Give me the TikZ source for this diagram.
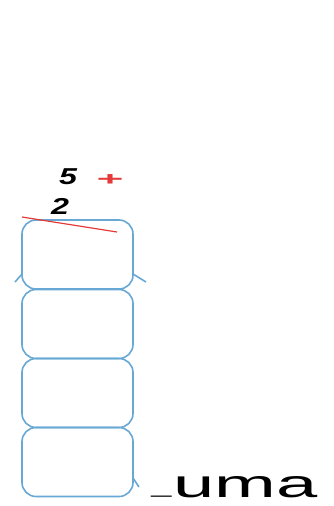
\documentclass[tikz,border=0pt]{standalone}
\usepackage{fontspec}
\setmainfont{Liberation Sans}
\definecolor{cellblue}{RGB}{104,168,212}
\definecolor{markred}{RGB}{228,58,58}

\begin{document}
\begin{tikzpicture}[
    x=1pt,y=-1pt,
    cell/.style={draw=cellblue, line width=1.6pt, rounded corners=14pt, minimum width=111pt, minimum height=69pt, inner sep=0pt},
    tail/.style={draw=cellblue, line width=1.6pt},
    digit/.style={font=\bfseries\itshape\fontsize{23}{23}\selectfont, xscale=1.4, inner sep=0pt},
    sign/.style={font=\bfseries\fontsize{22}{22}\selectfont, text=markred, xscale=2.1, yscale=0.85, inner sep=0pt},
    word/.style={font=\fontsize{39}{39}\selectfont, xscale=1.9, inner sep=0pt, text depth=0pt, anchor=base west}
]

    % ================= FRAME =================
    \useasboundingbox (0,0) rectangle (334,506);

    % ================= CELLS =================
    \node[cell] (c1) at (77.5,254.5) {};
    \node[cell] (c2) at (77.5,324) {};
    \node[cell] (c3) at (77.5,393) {};
    \node[cell] (c4) at (77.5,462) {};

    % tails where the cells meet
    \coordinate (t1) at (22,274);
    \coordinate (t1e) at (15,282);
    \coordinate (t2) at (133,274);
    \coordinate (t2e) at (146,282);
    \coordinate (t3) at (133,478);
    \coordinate (t3e) at (139,487);
    \draw[tail] (t1) -- (t1e);
    \draw[tail] (t2) -- (t2e);
    \draw[tail] (t3) -- (t3e);

    % ================= LABELS =================
    \node[digit] (five) at (68,177) {5};
    \node[sign] (plus) at (110,180) {+};
    \node[digit] (two) at (60,206) {2};

    % red stroke over the top cell
    \coordinate (r1) at (22,217);
    \coordinate (r2) at (117,232);
    \draw[markred, line width=1.2pt] (r1) -- (r2);

    % ================= TEXT =================
    \node[word] (sum) at (151,497) {\raisebox{4pt}{\fontsize{19}{19}\selectfont\_}\kern1pt uma};

\end{tikzpicture}
\end{document}
